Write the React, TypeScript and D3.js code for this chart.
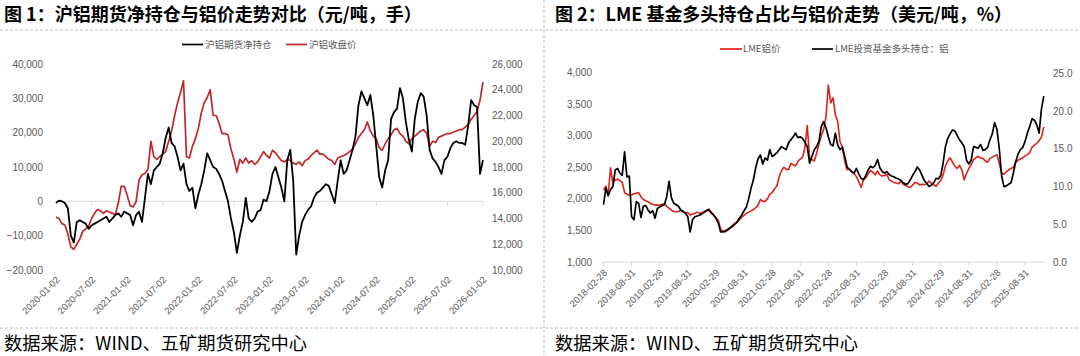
import React from "react";
import * as d3 from "d3";

// ---------- Chart 1: SHFE aluminium net position vs price (semi-monthly samples, 2020-01-02 .. 2026-01-02)
const shfeDateLabels = [
  "2020-01-02", "2020-07-02", "2021-01-02", "2021-07-02", "2022-01-02", "2022-07-02", "2023-01-02",
  "2023-07-02", "2024-01-02", "2024-07-02", "2025-01-02", "2025-07-02", "2026-01-02",
];
const shfeNetPosition = [
  -500, 200, 0, -500, -2000, -10000, -12000, -6000, -5500, -6000,
  -6500, -8000, -7000, -6500, -6000, -5500, -5000, -4500, -6000, -5000,
  -4000, -3500, -4500, -3000, -3500, -4000, -7000, -4000, -3000, -6000,
  1000, 8000, 5000, 9000, 10000, 11000, 14000, 18500, 21500, 17000,
  16000, 13000, 9000, 11000, 5000, 3000, 4000, -2000, 2000, 5000,
  9000, 14000, 12000, 10000, 9500, 8000, 6000, 3000, 0, -5000,
  -9000, -15000, -10000, -6000, 1000, -5000, -6000, -5000, -3000, -2500,
  500, 0, 3000, 8000, 10000, 7000, 4000, 0, 12000, 15000,
  6000, -15500, -10000, -6000, -4000, -2500, -1500, 1000, 2500, 3000,
  4000, 5000, 4500, 2000, -500, 6000, 12000, 8000, 9000, 12000,
  15000, 19000, 28000, 32000, 30000, 28000, 31000, 25000, 16000, 7000,
  4000, 9000, 12000, 24000, 26000, 27000, 33000, 30000, 23000, 18000,
  14500, 24000, 29000, 31500, 30500, 25000, 15000, 12500, 11500, 10000,
  8000, 12000, 13000, 15500, 17000, 17500, 17000, 17000, 16500, 22000,
  29500, 28000, 27500, 8000, 12000,
];
const shfeClosePrice = [
  14100, 14000, 13600, 13500, 12800, 11800, 11600, 12000, 12400, 13000,
  13200, 13400, 14000, 14400, 14700, 14600, 14400, 14600, 14500, 14400,
  14300, 15200, 16500, 16500, 15800, 15000, 14900, 15300, 17000, 17400,
  17500, 17800, 20000, 18800, 18600, 18800, 19000, 19200, 20000, 20800,
  22000, 23000, 23800, 24700, 18800, 18700, 19600, 20200, 21000, 22200,
  23000, 23400, 24000, 22000, 22000, 21400, 20600, 20600, 20500, 19400,
  18600, 17600, 18600, 18300, 18700, 18300, 18500, 18200, 18400, 18800,
  19200, 18900, 18700, 19300, 19100, 18800, 18500, 18400, 18600, 18500,
  18300, 18200, 18400, 18100, 18500, 18600, 18900, 19100, 19300, 19000,
  19000, 18800, 18600, 18500, 18200, 18700, 18800, 18900, 19000, 19200,
  19400, 19800, 20300, 20600, 20900, 21500, 20800, 20400, 20200, 19500,
  19300, 19800, 20200, 20500, 20900, 21000, 20600, 20400, 20000, 19800,
  20200, 20400, 20600, 20800, 20900, 20600, 19600, 20000, 19900, 20300,
  20400, 20500, 20600, 20600, 20700, 20800, 20900, 20900, 21100, 21300,
  21700, 22000, 22300, 23200, 24600,
];
const shfeLeftTicks = [-20000, -10000, 0, 10000, 20000, 30000, 40000];
const shfeRightTicks = [10000, 12000, 14000, 16000, 18000, 20000, 22000, 24000, 26000];

// ---------- Chart 2: LME price vs fund long share (semi-monthly samples from 2018-02-28)
const lmeDateLabels = [
  "2018-02-28", "2018-08-31", "2019-02-28", "2019-08-31", "2020-02-29", "2020-08-31", "2021-02-28", "2021-08-31",
  "2022-02-28", "2022-08-31", "2023-02-28", "2023-08-31", "2024-02-29", "2024-08-31", "2025-02-28", "2025-08-31",
];
const lmeAlPrice = [
  2140, 2200, 2050, 2490, 2250, 2300, 2310, 2290, 2260, 2100,
  2070, 2060, 2060, 2080, 2090, 2100, 2030, 1990, 1970, 1955,
  1930, 1910, 1905, 1900, 1900, 1910, 1925, 1880, 1850, 1820,
  1800, 1796, 1800, 1820, 1790, 1770, 1785, 1743, 1760, 1770,
  1790, 1770, 1780, 1800, 1820, 1810, 1790, 1750, 1700, 1660,
  1520, 1490, 1480, 1500, 1540, 1580, 1610, 1630, 1670, 1710,
  1740, 1770, 1790, 1810, 1830, 1860, 1900, 1990, 1960, 1960,
  2000, 2070, 2100, 2160, 2200, 2350, 2450, 2500, 2470, 2460,
  2560, 2540, 2520, 2590, 2630, 2660, 2810, 3160, 2650, 2620,
  2600, 2720, 2870, 3000, 3100, 3300, 3800, 3520, 3600, 3330,
  3220, 2900, 2820, 2600, 2460, 2470, 2420, 2400, 2350, 2270,
  2180, 2300, 2330, 2400, 2450, 2420, 2380, 2440, 2380, 2360,
  2370, 2390, 2300, 2280, 2260, 2250, 2240, 2280, 2230, 2210,
  2190, 2180, 2220, 2260, 2250, 2220, 2230, 2225, 2240, 2280,
  2250, 2220, 2200, 2250, 2290, 2380, 2520, 2600, 2650, 2580,
  2520, 2480, 2530, 2460, 2300, 2400, 2480, 2540, 2620, 2650,
  2670, 2650, 2640, 2600, 2580, 2640, 2660, 2680, 2700, 2560,
  2410, 2390, 2430, 2460, 2480, 2500, 2580, 2610, 2630, 2650,
  2680, 2700, 2730, 2820, 2850, 2880, 2920, 2980, 3140,
];
const lmeFundLong = [
  7.6, 9.8, 8.8, 9.6, 10.0, 12.2, 12.4, 11.8, 11.5, 14.6,
  11.3, 11.4, 6.0, 5.6, 8.0, 7.8, 5.9, 7.4, 7.5, 6.9,
  6.5, 6.8, 5.8, 7.1, 7.3, 7.5, 7.6, 8.7, 10.7, 8.5,
  7.8, 7.6, 7.4, 6.9, 6.7, 6.5, 6.0, 4.0, 5.6, 6.0,
  6.1, 6.2, 6.4, 6.6, 6.8, 7.0, 6.5, 6.2, 5.8, 5.2,
  4.0, 4.0, 4.1, 4.3, 4.5, 4.7, 5.0, 5.3, 5.8, 6.2,
  6.8, 7.3, 8.4, 9.8, 10.9, 12.5, 13.7, 14.2, 13.0, 13.8,
  13.5, 14.9, 14.0, 14.2, 14.5, 14.9, 15.3, 15.1, 14.9, 15.8,
  16.2, 16.6, 17.1, 16.5, 16.6, 16.4, 15.9, 15.3, 13.1, 14.0,
  14.9, 15.3, 16.0, 18.0, 18.6, 17.8, 16.6, 15.6, 15.4, 17.1,
  15.5, 14.9, 15.2, 14.0, 12.6, 12.3, 12.0, 11.8, 12.4, 11.7,
  11.1, 10.9, 11.5, 12.2, 12.7, 12.5, 12.8, 13.6, 12.5, 12.0,
  11.8, 12.0, 11.6, 11.4, 11.3, 11.1, 11.0, 10.8, 10.5, 10.3,
  10.4, 10.9, 11.5, 12.0, 12.6, 12.2, 11.5, 10.8, 10.4, 10.0,
  10.2, 10.5, 11.1, 11.0, 11.5, 13.1, 15.3, 16.4, 17.0, 17.5,
  17.4, 16.8, 16.2, 15.8, 15.3, 13.5, 13.0, 13.5, 15.3, 15.2,
  15.1, 15.6, 14.8, 14.9, 15.2, 16.2, 17.0, 18.5, 17.6, 15.0,
  11.4, 10.0, 10.1, 10.3, 10.5, 11.8, 13.3, 14.3, 14.9, 15.2,
  16.0, 17.1, 18.0, 19.0, 18.8, 18.2, 17.1, 20.3, 22.0,
];
const lmeLeftTicks = [1000, 1500, 2000, 2500, 3000, 3500, 4000];
const lmeRightTicks = [0, 5, 10, 15, 20, 25];

const AXIS_FONT = "'Liberation Sans', Arial, sans-serif";
const CJK_FONT = "'Noto Sans CJK SC', 'Noto Sans', sans-serif";
const AXIS_COLOR = "#595959";
const fmtInt = d3.format(",");
const fmt1 = d3.format(".1f");

function Chart1() {
  const x = d3.scaleLinear().domain([0, shfeNetPosition.length - 1]).range([56, 483]);
  const yL = d3.scaleLinear().domain([-20000, 40000]).range([270, 64]);
  const yR = d3.scaleLinear().domain([10000, 26000]).range([270, 64]);
  const step = (shfeNetPosition.length - 1) / (shfeDateLabels.length - 1);
  const netLine = d3.line<number>().x((_, i) => x(i)).y((d) => yL(d));
  const priceLine = d3.line<number>().x((_, i) => x(i)).y((d) => yR(d));
  const tickIdx = shfeDateLabels.map((_, k) => k).filter((k) => k % 2 === 1 || k === shfeDateLabels.length - 1);
  return (
    <g>
      <line x1={x(0)} x2={x(shfeNetPosition.length - 1)} y1={yL(0)} y2={yL(0)} stroke="#d9d9d9" strokeWidth={1} />
      {tickIdx.map((k) => (
        <line key={k} x1={x(k * step)} x2={x(k * step)} y1={yL(0)} y2={yL(0) + 4} stroke="#d9d9d9" />
      ))}
      {shfeLeftTicks.map((t) => (
        <text key={t} x={43} y={yL(t)} dy="0.35em" textAnchor="end" fontSize={10} fill={AXIS_COLOR} fontFamily={AXIS_FONT}>
          {fmtInt(t)}
        </text>
      ))}
      {shfeRightTicks.map((t) => (
        <text key={t} x={492} y={yR(t)} dy="0.35em" textAnchor="start" fontSize={10} fill={AXIS_COLOR} fontFamily={AXIS_FONT}>
          {fmtInt(t)}
        </text>
      ))}
      {shfeDateLabels.map((lab, k) => (
        <text
          key={lab}
          transform={`translate(${x(k * step) + 2},${278}) rotate(-45)`}
          dy="0.35em"
          textAnchor="end"
          fontSize={9.5}
          fill={AXIS_COLOR}
          fontFamily={AXIS_FONT}
        >
          {lab}
        </text>
      ))}
      <path d={priceLine(shfeClosePrice) || ""} fill="none" stroke="#c0272d" strokeWidth={1.7} strokeLinejoin="round" />
      <path d={netLine(shfeNetPosition) || ""} fill="none" stroke="#000" strokeWidth={1.8} strokeLinejoin="round" />
      {/* legend */}
      <line x1={182} x2={203} y1={44.5} y2={44.5} stroke="#000" strokeWidth={1.7} />
      <text x={205} y={44.5} dy="0.35em" fontSize={9.5} fill={AXIS_COLOR} fontFamily={CJK_FONT}>沪铝期货净持仓</text>
      <line x1={286} x2={307} y1={44.5} y2={44.5} stroke="#c0272d" strokeWidth={1.7} />
      <text x={309} y={44.5} dy="0.35em" fontSize={9.5} fill={AXIS_COLOR} fontFamily={CJK_FONT}>沪铝收盘价</text>
    </g>
  );
}

function Chart2() {
  const x = d3.scaleLinear().domain([0, lmeAlPrice.length - 1]).range([603.5, 1043.8]);
  const yL = d3.scaleLinear().domain([1000, 4000]).range([262, 72.5]);
  const yR = d3.scaleLinear().domain([0, 25]).range([262, 73.5]);
  const step = 12;
  const priceLine = d3.line<number>().x((_, i) => x(i)).y((d) => yL(d));
  const fundLine = d3.line<number>().x((_, i) => x(i)).y((d) => yR(d));
  return (
    <g>
      <line x1={602} x2={1045} y1={262} y2={262} stroke="#d9d9d9" strokeWidth={1} />
      {lmeDateLabels.map((lab, k) => (
        <line key={lab} x1={x(k * step)} x2={x(k * step)} y1={262} y2={266} stroke="#d9d9d9" />
      ))}
      {lmeLeftTicks.map((t) => (
        <text key={t} x={592} y={yL(t)} dy="0.35em" textAnchor="end" fontSize={10} fill={AXIS_COLOR} fontFamily={AXIS_FONT}>
          {fmtInt(t)}
        </text>
      ))}
      {lmeRightTicks.map((t) => (
        <text key={t} x={1053} y={yR(t)} dy="0.35em" textAnchor="start" fontSize={10} fill={AXIS_COLOR} fontFamily={AXIS_FONT}>
          {fmt1(t)}
        </text>
      ))}
      {lmeDateLabels.map((lab, k) => (
        <text
          key={lab}
          transform={`translate(${x(k * step) + 2},${271}) rotate(-45)`}
          dy="0.35em"
          textAnchor="end"
          fontSize={9.5}
          fill={AXIS_COLOR}
          fontFamily={AXIS_FONT}
        >
          {lab}
        </text>
      ))}
      <path d={priceLine(lmeAlPrice) || ""} fill="none" stroke="#e0201b" strokeWidth={1.6} strokeLinejoin="round" />
      <path d={fundLine(lmeFundLong) || ""} fill="none" stroke="#000" strokeWidth={1.7} strokeLinejoin="round" />
      {/* legend */}
      <line x1={720} x2={742} y1={49} y2={49} stroke="#e0201b" strokeWidth={1.7} />
      <text x={743} y={49} dy="0.35em" fontSize={9.5} fill={AXIS_COLOR} fontFamily={CJK_FONT}>LME铝价</text>
      <line x1={812} x2={833} y1={49} y2={49} stroke="#000" strokeWidth={1.7} />
      <text x={835} y={49} dy="0.35em" fontSize={9.5} fill={AXIS_COLOR} fontFamily={CJK_FONT}>LME投资基金多头持仓：铝</text>
    </g>
  );
}

export default function App() {
  return (
    <svg
      width={1080}
      height={356}
      viewBox="0 0 1080 356"
      style={{ position: "absolute", left: 0, top: 0, background: "#fff" }}
    >
      <rect x={0} y={0} width={1080} height={356} fill="#fff" />
      <text x={4} y={21} fontSize={18} fontWeight="bold" fill="#000" fontFamily={CJK_FONT}>
        图 1：沪铝期货净持仓与铝价走势对比（元/吨，手）
      </text>
      <text x={555} y={21} fontSize={18} fontWeight="bold" fill="#000" fontFamily={CJK_FONT} textLength={457} lengthAdjust="spacingAndGlyphs">
        图 2：LME 基金多头持仓占比与铝价走势（美元/吨，%）
      </text>
      <line x1={0} x2={1080} y1={30} y2={30} stroke="#bfbfbf" strokeDasharray="3,2" />
      <line x1={0} x2={1080} y1={328} y2={328} stroke="#bfbfbf" strokeDasharray="3,2" />
      <line x1={544} x2={544} y1={0} y2={356} stroke="#bfbfbf" strokeDasharray="3,2" />
      <Chart1 />
      <Chart2 />
      <text x={4} y={350} fontSize={18} fill="#000" fontFamily={CJK_FONT} textLength={303} lengthAdjust="spacingAndGlyphs">
        数据来源：WIND、五矿期货研究中心
      </text>
      <text x={555} y={350} fontSize={18} fill="#000" fontFamily={CJK_FONT} textLength={303} lengthAdjust="spacingAndGlyphs">
        数据来源：WIND、五矿期货研究中心
      </text>
    </svg>
  );
}
